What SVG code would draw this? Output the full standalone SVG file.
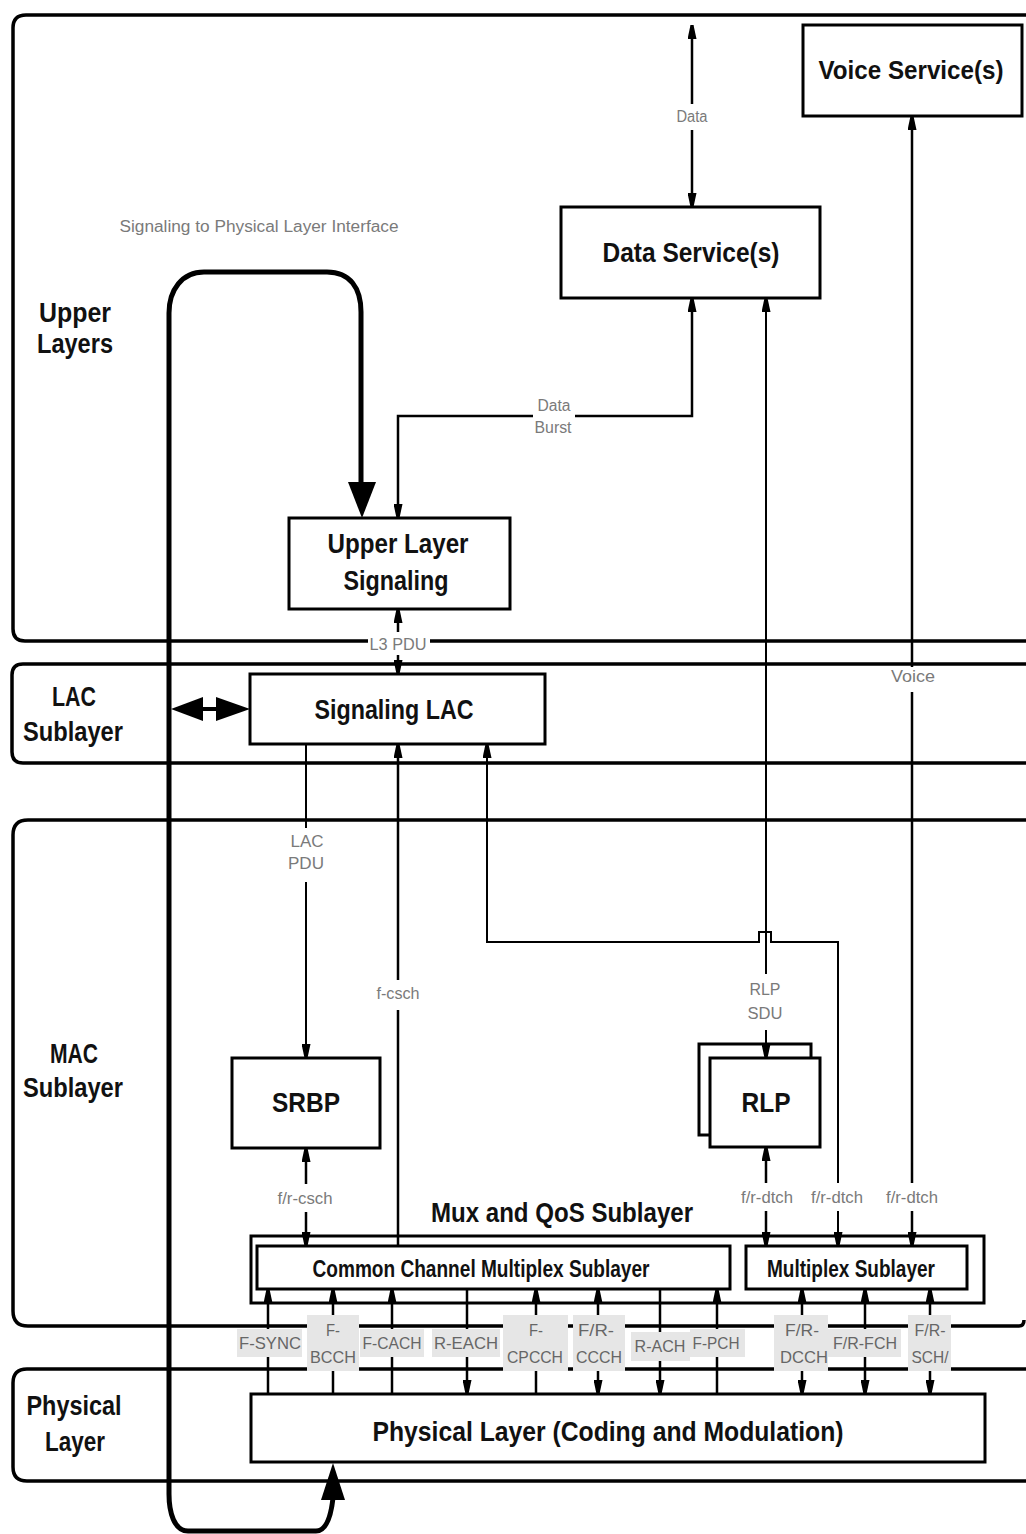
<svg xmlns="http://www.w3.org/2000/svg" width="1026" height="1534" viewBox="0 0 1026 1534">
<defs>
<style>
.band{fill:none;stroke:#000;stroke-width:3.5}
.box{fill:#fff;stroke:#000;stroke-width:3}
.t{font-family:"Liberation Sans",Arial,sans-serif;text-anchor:middle;fill:#111}
.big{font-size:28px;font-weight:bold}
.mid{font-size:24px;font-weight:bold}
.sm{font-size:16px;fill:#7a7a7a}
.ch{font-size:17px;fill:#666}
.chbg{fill:#e6e6e6}
.lbg{fill:#fff}
.loop{fill:none;stroke:#000;stroke-width:5}
</style>
<marker id="a" viewBox="0 0 14 9" refX="14" refY="4.5" markerWidth="14" markerHeight="9" markerUnits="userSpaceOnUse" orient="auto-start-reverse">
<path d="M0,0 L14,3 L14,6 L0,9 z" fill="#000"/>
</marker>
</defs>
<rect width="1026" height="1534" fill="#fff"/>

<g id="bands">
<path class="band" d="M1026,15 L26,15 Q13,15 13,28 L13,629 Q13,641 25,641 L1026,641"/>
<path class="band" d="M1026,664 L23,664 Q12,664 12,675 L12,752 Q12,763 23,763 L1026,763"/>
<path class="band" d="M1026,820 L28,820 Q13,820 13,835 L13,1311 Q13,1326 28,1326 L1019,1326 Q1024,1326 1024,1320"/>
<path class="band" d="M1026,1369 L27,1369 Q13,1369 13,1383 L13,1467 Q13,1481 27,1481 L1026,1481"/>
<text class="t big" x="75" y="322" textLength="72" lengthAdjust="spacingAndGlyphs">Upper</text>
<text class="t big" x="75" y="353" textLength="76" lengthAdjust="spacingAndGlyphs">Layers</text>
<text class="t big" x="74" y="706" textLength="44" lengthAdjust="spacingAndGlyphs">LAC</text>
<text class="t big" x="73" y="741" textLength="100" lengthAdjust="spacingAndGlyphs">Sublayer</text>
<text class="t big" x="74" y="1063" textLength="48" lengthAdjust="spacingAndGlyphs">MAC</text>
<text class="t big" x="73" y="1097" textLength="100" lengthAdjust="spacingAndGlyphs">Sublayer</text>
<text class="t big" x="74" y="1415" textLength="95" lengthAdjust="spacingAndGlyphs">Physical</text>
<text class="t big" x="75" y="1451" textLength="60" lengthAdjust="spacingAndGlyphs">Layer</text>
</g>

<g id="n-voice"><rect class="box" x="803" y="25" width="219" height="91"/>
<text class="t big" style="font-size:25px" x="911" y="79" textLength="185" lengthAdjust="spacingAndGlyphs">Voice Service(s)</text></g>
<g id="n-data"><rect class="box" x="561" y="207" width="259" height="91"/>
<text class="t big" x="691" y="262" textLength="177" lengthAdjust="spacingAndGlyphs">Data Service(s)</text></g>
<g id="n-uls"><rect class="box" x="289" y="518" width="221" height="91"/>
<text class="t big" x="398" y="553" textLength="141" lengthAdjust="spacingAndGlyphs">Upper Layer</text>
<text class="t big" x="396" y="590" textLength="105" lengthAdjust="spacingAndGlyphs">Signaling</text></g>
<g id="n-slac"><rect class="box" x="250" y="674" width="295" height="70"/>
<text class="t big" x="394" y="719" textLength="159" lengthAdjust="spacingAndGlyphs">Signaling LAC</text></g>
<g id="n-srbp"><rect class="box" x="232" y="1058" width="148" height="90"/>
<text class="t big" x="306" y="1112" textLength="68" lengthAdjust="spacingAndGlyphs">SRBP</text></g>
<g id="n-rlp"><rect class="box" x="699" y="1044" width="112" height="91"/>
<rect class="box" x="710" y="1058" width="110" height="89"/>
<text class="t big" x="766" y="1112" textLength="49" lengthAdjust="spacingAndGlyphs">RLP</text></g>
<g id="n-mux"><text class="t big" x="562" y="1222" textLength="262" lengthAdjust="spacingAndGlyphs">Mux and QoS Sublayer</text>
<rect class="box" x="251" y="1236" width="733" height="67"/></g>
<g id="n-ccms"><rect class="box" x="257" y="1246" width="473" height="43"/>
<text class="t mid" x="481" y="1277" textLength="337" lengthAdjust="spacingAndGlyphs">Common Channel Multiplex Sublayer</text></g>
<g id="n-ms"><rect class="box" x="746" y="1246" width="221" height="43"/>
<text class="t mid" x="851" y="1277" textLength="168" lengthAdjust="spacingAndGlyphs">Multiplex Sublayer</text></g>
<g id="n-phy"><rect class="box" x="251" y="1394" width="734" height="68"/>
<text class="t big" x="608" y="1441" textLength="471" lengthAdjust="spacingAndGlyphs">Physical Layer (Coding and Modulation)</text></g>

<g id="connectors">
<g fill="none" stroke="#000" stroke-width="2.5">
<path d="M692,25 L692,207" marker-start="url(#a)" marker-end="url(#a)"/>
<path d="M912,116 L912,1246" marker-start="url(#a)" marker-end="url(#a)"/>
<path d="M692,298 L692,416 L398,416 L398,518" marker-start="url(#a)" marker-end="url(#a)"/>
<path d="M398,632 L398,609" marker-end="url(#a)"/>
<path d="M398,655 L398,674" marker-end="url(#a)"/>
<path d="M306,744 L306,1058" stroke-width="2" marker-end="url(#a)"/>
<path d="M398,1246 L398,744" marker-end="url(#a)"/>
<path d="M838,1246 L838,942 L771,942 L771,932 L759,932 L759,942 L487,942 L487,744" stroke-width="2" marker-start="url(#a)" marker-end="url(#a)"/>
<path d="M766,298 L766,1058" stroke-width="2" marker-start="url(#a)" marker-end="url(#a)"/>
<path d="M766,1147 L766,1246" marker-start="url(#a)" marker-end="url(#a)"/>
<path d="M306,1148 L306,1246" marker-start="url(#a)" marker-end="url(#a)"/>
<path d="M268,1394 L268,1289" marker-end="url(#a)"/>
<path d="M333,1394 L333,1289" marker-end="url(#a)"/>
<path d="M392,1394 L392,1289" marker-end="url(#a)"/>
<path d="M467,1289 L467,1394" marker-end="url(#a)"/>
<path d="M536,1394 L536,1289" marker-end="url(#a)"/>
<path d="M598,1289 L598,1394" marker-start="url(#a)" marker-end="url(#a)"/>
<path d="M660,1289 L660,1394" marker-end="url(#a)"/>
<path d="M717,1394 L717,1289" marker-end="url(#a)"/>
<path d="M802,1289 L802,1394" marker-start="url(#a)" marker-end="url(#a)"/>
<path d="M865,1289 L865,1394" marker-start="url(#a)" marker-end="url(#a)"/>
<path d="M930,1289 L930,1394" marker-start="url(#a)" marker-end="url(#a)"/>
</g>
<path class="loop" d="M361,484 L361,312 C361,288 350,272 327,272 L204,272 C182,272 169,290 169,313 L169,1494 C169,1512 174,1531 188,1531 L316,1531 C326,1531 331,1516 333,1498"/>
<polygon points="348,482 376,482 362,518"/>
<polygon points="321,1500 345,1500 333,1463"/>
<polygon points="171,709 203,697 203,721"/>
<rect x="202" y="707" width="15" height="4"/>
<polygon points="216,697 216,721 250,709"/>
</g>

<g id="labels">
<text class="t sm" x="259" y="232" textLength="279" lengthAdjust="spacingAndGlyphs">Signaling to Physical Layer Interface</text>
<rect class="lbg" x="676" y="104" width="33" height="26"/>
<text class="t sm" x="692" y="122" textLength="31" lengthAdjust="spacingAndGlyphs">Data</text>
<rect class="lbg" x="533" y="395" width="42" height="42"/>
<text class="t sm" x="554" y="411" textLength="33" lengthAdjust="spacingAndGlyphs">Data</text>
<text class="t sm" x="553" y="433" textLength="37" lengthAdjust="spacingAndGlyphs">Burst</text>
<rect class="lbg" x="368" y="634" width="62" height="20"/>
<text class="t sm" x="398" y="650" textLength="57" lengthAdjust="spacingAndGlyphs">L3 PDU</text>
<rect class="lbg" x="888" y="667" width="50" height="25"/>
<text class="t sm" x="913" y="682" textLength="44" lengthAdjust="spacingAndGlyphs">Voice</text>
<rect class="lbg" x="285" y="828" width="42" height="54"/>
<text class="t sm" x="307" y="847" textLength="33" lengthAdjust="spacingAndGlyphs">LAC</text>
<text class="t sm" x="306" y="869" textLength="36" lengthAdjust="spacingAndGlyphs">PDU</text>
<rect class="lbg" x="374" y="980" width="48" height="30"/>
<text class="t sm" x="398" y="999" textLength="43" lengthAdjust="spacingAndGlyphs">f-csch</text>
<rect class="lbg" x="745" y="974" width="41" height="56"/>
<text class="t sm" x="765" y="995" textLength="31" lengthAdjust="spacingAndGlyphs">RLP</text>
<text class="t sm" x="765" y="1019" textLength="35" lengthAdjust="spacingAndGlyphs">SDU</text>
<rect class="lbg" x="274" y="1184" width="62" height="28"/>
<text class="t sm" x="305" y="1204" textLength="55" lengthAdjust="spacingAndGlyphs">f/r-csch</text>
<rect class="lbg" x="739" y="1183" width="56" height="28"/>
<text class="t sm" x="767" y="1203" textLength="52" lengthAdjust="spacingAndGlyphs">f/r-dtch</text>
<rect class="lbg" x="809" y="1183" width="56" height="28"/>
<text class="t sm" x="837" y="1203" textLength="52" lengthAdjust="spacingAndGlyphs">f/r-dtch</text>
<rect class="lbg" x="884" y="1183" width="56" height="28"/>
<text class="t sm" x="912" y="1203" textLength="52" lengthAdjust="spacingAndGlyphs">f/r-dtch</text>

<rect class="chbg" x="237" y="1329" width="65" height="28"/>
<text class="t ch" x="270" y="1349" textLength="62" lengthAdjust="spacingAndGlyphs">F-SYNC</text>
<rect class="chbg" x="307" y="1315" width="52" height="56"/>
<text class="t ch" x="333" y="1336" textLength="14" lengthAdjust="spacingAndGlyphs">F-</text>
<text class="t ch" x="333" y="1363" textLength="46" lengthAdjust="spacingAndGlyphs">BCCH</text>
<rect class="chbg" x="360" y="1329" width="64" height="28"/>
<text class="t ch" x="392" y="1349" textLength="59" lengthAdjust="spacingAndGlyphs">F-CACH</text>
<rect class="chbg" x="432" y="1329" width="68" height="28"/>
<text class="t ch" x="466" y="1349" textLength="64" lengthAdjust="spacingAndGlyphs">R-EACH</text>
<rect class="chbg" x="503" y="1315" width="65" height="56"/>
<text class="t ch" x="536" y="1336" textLength="14" lengthAdjust="spacingAndGlyphs">F-</text>
<text class="t ch" x="535" y="1363" textLength="56" lengthAdjust="spacingAndGlyphs">CPCCH</text>
<rect class="chbg" x="573" y="1315" width="52" height="56"/>
<text class="t ch" x="596" y="1336" textLength="36" lengthAdjust="spacingAndGlyphs">F/R-</text>
<text class="t ch" x="599" y="1363" textLength="46" lengthAdjust="spacingAndGlyphs">CCCH</text>
<rect class="chbg" x="631" y="1332" width="59" height="29"/>
<text class="t ch" x="660" y="1352" textLength="51" lengthAdjust="spacingAndGlyphs">R-ACH</text>
<rect class="chbg" x="690" y="1329" width="55" height="28"/>
<text class="t ch" x="716" y="1349" textLength="47" lengthAdjust="spacingAndGlyphs">F-PCH</text>
<rect class="chbg" x="774" y="1315" width="54" height="56"/>
<text class="t ch" x="802" y="1336" textLength="34" lengthAdjust="spacingAndGlyphs">F/R-</text>
<text class="t ch" x="804" y="1363" textLength="48" lengthAdjust="spacingAndGlyphs">DCCH</text>
<rect class="chbg" x="828" y="1329" width="73" height="28"/>
<text class="t ch" x="865" y="1349" textLength="64" lengthAdjust="spacingAndGlyphs">F/R-FCH</text>
<rect class="chbg" x="908" y="1315" width="43" height="56"/>
<text class="t ch" x="930" y="1336" textLength="31" lengthAdjust="spacingAndGlyphs">F/R-</text>
<text class="t ch" x="930" y="1363" textLength="37" lengthAdjust="spacingAndGlyphs">SCH/</text>
</g>
</svg>
